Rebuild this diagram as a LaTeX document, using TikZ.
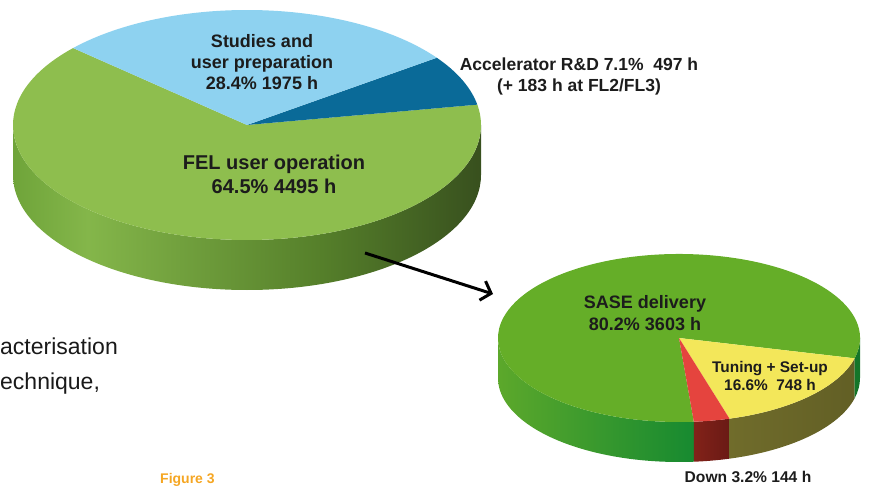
\documentclass[tikz,border=0pt]{standalone}
\usepackage{fontspec}
\setmainfont{Liberation Sans}
\usetikzlibrary{arrows.meta}
\definecolor{felgreen}{HTML}{8EBE4E}
\definecolor{felA}{HTML}{6FA43A}
\definecolor{felB}{HTML}{84B64A}
\definecolor{felC}{HTML}{557F2A}
\definecolor{felD}{HTML}{38501E}
\definecolor{studyblue}{HTML}{8ED2F0}
\definecolor{accblue}{HTML}{0A6A98}
\definecolor{sasegreen}{HTML}{65AE28}
\definecolor{saseA}{HTML}{5CA82B}
\definecolor{saseB}{HTML}{178A30}
\definecolor{tuneyellow}{HTML}{F3E75A}
\definecolor{tuneA}{HTML}{706C2B}
\definecolor{tuneB}{HTML}{625F25}
\definecolor{downred}{HTML}{E5443E}
\definecolor{downA}{HTML}{822219}
\definecolor{downB}{HTML}{6A1A15}
\definecolor{figorange}{HTML}{F5A623}
\definecolor{labelgrey}{HTML}{1C1C1C}
\pgfdeclarehorizontalshading{felside}{100bp}{color(0bp)=(felA); color(25bp)=(felA);
  color(33bp)=(felB); color(58bp)=(felC); color(75bp)=(felD); color(100bp)=(felD)}
\tikzset{
  bigpie/.style={x radius=234, y radius=115},
  smallpie/.style={x radius=181, y radius=84},
  pielabel/.style={align=center, text=labelgrey, inner sep=0pt},
  bodytext/.style={anchor=base west, inner sep=0pt, text=black!90,
    font=\fontsize{23}{28}\selectfont}
}
\begin{document}
\begin{tikzpicture}[x=1pt, y=1pt]
  \useasboundingbox (0,0) rectangle (870,488);
  \clip (0,0) rectangle (870,488);
  % large pie
  \begin{scope}[shift={(247,363)}]
    \shade[shading=felside] (180:234 and 115) arc[start angle=180, end angle=360, bigpie]
      -- ++(0,-50) arc[start angle=360, end angle=180, bigpie] -- cycle;
    \fill[felgreen] (0,0) -- (138:234 and 115) arc[start angle=138, end angle=370.2, bigpie] -- cycle;
    \fill[accblue] (0,0) -- (10.2:234 and 115) arc[start angle=10.2, end angle=35.8, bigpie] -- cycle;
    \fill[studyblue] (0,0) -- (35.8:234 and 115) arc[start angle=35.8, end angle=138, bigpie] -- cycle;
  \end{scope}
  % small pie
  \begin{scope}[shift={(679,150)}]
    \shade[left color=saseA, right color=saseB]
      (180:181 and 84) arc[start angle=180, end angle=274.7, smallpie]
      -- ++(0,-40) arc[start angle=274.7, end angle=180, smallpie] -- cycle;
    \shade[left color=downA, right color=downB]
      (274.7:181 and 84) arc[start angle=274.7, end angle=286.2, smallpie]
      -- ++(0,-40) arc[start angle=286.2, end angle=274.7, smallpie] -- cycle;
    \shade[left color=tuneA, right color=tuneB]
      (286.2:181 and 84) arc[start angle=286.2, end angle=346, smallpie]
      -- ++(0,-40) arc[start angle=346, end angle=286.2, smallpie] -- cycle;
    \fill[saseB!85!black]
      (346:181 and 84) arc[start angle=346, end angle=360, smallpie]
      -- ++(0,-40) arc[start angle=360, end angle=346, smallpie] -- cycle;
    \fill[sasegreen] (0,0) -- (-14:181 and 84) arc[start angle=-14, end angle=274.7, smallpie] -- cycle;
    \fill[tuneyellow] (0,0) -- (-73.8:181 and 84) arc[start angle=-73.8, end angle=-14, smallpie] -- cycle;
    \fill[downred] (0,0) -- (-85.3:181 and 84) arc[start angle=-85.3, end angle=-73.8, smallpie] -- cycle;
  \end{scope}
  % labels
  \node[pielabel, font=\fontsize{18}{21}\selectfont\bfseries] (studies) at (262,426)
    {Studies and\\user preparation\\28.4\% 1975 h};
  \node[pielabel, font=\fontsize{17.5}{21}\selectfont\bfseries] (accel) at (579,412)
    {Accelerator R\&D 7.1\%\ \ 497 h\\(+ 183 h at FL2/FL3)};
  \node[pielabel, font=\fontsize{20}{24}\selectfont\bfseries] (fel) at (274,314)
    {FEL user operation\\64.5\% 4495 h};
  \node[pielabel, font=\fontsize{18}{22}\selectfont\bfseries] (sase) at (645,175)
    {SASE delivery\\80.2\% 3603 h};
  \node[pielabel, font=\fontsize{15.4}{18}\selectfont\bfseries] (tuning) at (770,112)
    {Tuning + Set-up\\16.6\%\ \ 748 h};
  \node[pielabel, font=\fontsize{15.6}{18}\selectfont\bfseries] (down) at (748,11)
    {Down 3.2\% 144 h};
  % arrow
  \coordinate (felpoint) at (365,235);
  \coordinate (sasepoint) at (493,194);
  \draw[line width=3pt, -{Straight Barb[length=9pt, width=20pt]}] (felpoint) -- (sasepoint);
  % side text
  \node[bodytext] (line1) at (0,134) {acterisation};
  \node[bodytext] (line2) at (0,99) {echnique,};
  \node[anchor=south west, inner sep=0pt, text=figorange, font=\fontsize{14}{16}\selectfont\bfseries]
    (figlabel) at (160,1) {Figure 3};
\end{tikzpicture}
\end{document}
